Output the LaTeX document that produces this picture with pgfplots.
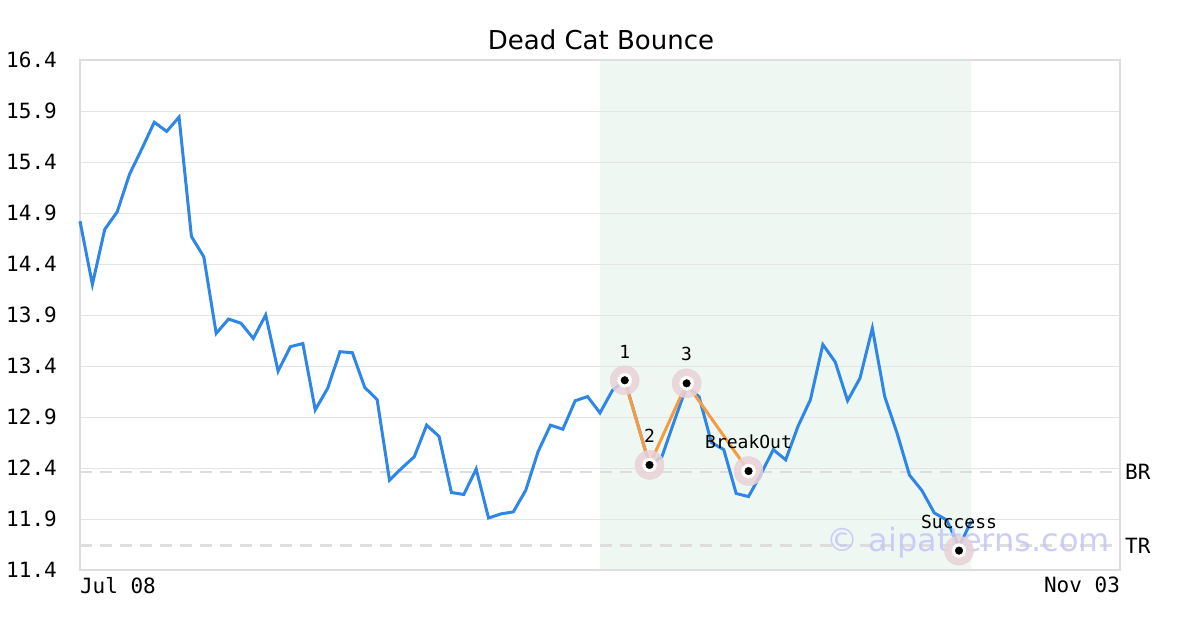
\documentclass[border=0pt]{standalone}
\usepackage{pgfplots}
\pgfplotsset{compat=1.18}
\usepackage{pgfplotstable}
\usepackage{fontspec}
\setmainfont{DejaVu Sans}
\setmonofont{DejaVu Sans Mono}
\definecolor{lineblue}{RGB}{46,134,230}
\definecolor{pattorange}{RGB}{245,155,66}
\definecolor{shade}{RGB}{239,247,243}
\definecolor{gridgray}{RGB}{228,228,228}
\definecolor{framegray}{RGB}{221,221,221}
\definecolor{halo}{RGB}{232,210,217}
\definecolor{wmark}{RGB}{196,198,246}

\pgfplotstableread{
x y
0 14.82
1 14.20
2 14.74
3 14.91
4 15.28
5 15.53
6 15.79
7 15.70
8 15.84
9 14.67
10 14.47
11 13.72
12 13.86
13 13.82
14 13.67
15 13.90
16 13.35
17 13.59
18 13.62
19 12.97
20 13.18
21 13.54
22 13.53
23 13.19
24 13.07
25 12.28
26 12.40
27 12.51
28 12.82
29 12.71
30 12.16
31 12.14
32 12.39
33 11.91
34 11.95
35 11.97
36 12.18
37 12.56
38 12.82
39 12.78
40 13.06
41 13.10
42 12.94
43 13.16
44 13.26
45 12.85
46 12.43
47 12.51
48 12.86
49 13.20
50 13.10
51 12.65
52 12.58
53 12.15
54 12.12
55 12.34
56 12.58
57 12.48
58 12.81
59 13.07
60 13.61
61 13.44
62 13.06
63 13.28
64 13.77
65 13.10
66 12.74
67 12.33
68 12.18
69 11.96
70 11.89
71 11.63
72 11.88
}\pricedata

\pgfplotstableread{
x y
44 13.26
46 12.43
49 13.23
54 12.37
}\pattdata

\pgfplotstableread{
x y label
44 13.26 1
46 12.43 2
49 13.23 3
54 12.37 BreakOut
71 11.59 Success
}\ptsdata

\begin{document}
\begin{tikzpicture}
\node[anchor=base, font=\fontsize{26bp}{30bp}\selectfont] at (601bp,580bp) {Dead Cat Bounce};
\begin{axis}[
  set layers,
  at={(80bp,60bp)}, anchor=south west,
  scale only axis, width=1040bp, height=510bp,
  xmin=0, xmax=84, ymin=11.4, ymax=16.4,
  clip=false,
  axis line style={framegray, line width=2bp},
  xtick={0,84},
  xticklabels={\rlap{Jul 08},\llap{Nov 03}},
  ytick={11.4,11.9,12.4,12.9,13.4,13.9,14.4,14.9,15.4,15.9,16.4},
  yticklabels={11.4,11.9,12.4,12.9,13.4,13.9,14.4,14.9,15.4,15.9,16.4},
  ymajorgrids,
  grid style={gridgray, line width=0.8bp},
  major tick length=0pt,
  tick label style={font=\ttfamily\fontsize{21bp}{24bp}\selectfont, text=black},
  yticklabel style={anchor=east, inner sep=0pt, xshift=-23bp},
  xticklabel style={anchor=north, inner sep=0pt, yshift=-7bp},
]
\addplot[draw=none, fill=shade, on layer=axis background] coordinates {(42,11.4) (42,16.4) (72,16.4) (72,11.4) (42,11.4)};
\addplot[framegray, line width=2.5bp, dash pattern=on 12bp off 8bp] coordinates {(0,12.36) (84,12.36)};
\addplot[framegray, line width=2.5bp, dash pattern=on 12bp off 8bp] coordinates {(0,11.64) (84,11.64)};
\addplot[lineblue, line width=3bp] table[x=x, y=y] {\pricedata};
\addplot[pattorange, line width=3bp] table[x=x, y=y] {\pattdata};
\addplot[halo, only marks, mark=*, mark size=14.5bp, mark options={draw=none, fill=halo, fill opacity=0.85}] table[x=x, y=y] {\ptsdata};
\addplot[white, only marks, mark=*, mark size=7bp, mark options={draw=none, fill=white}] table[x=x, y=y] {\ptsdata};
\addplot[black, only marks, mark=*, mark size=3.8bp, mark options={draw=none, fill=black},
  nodes near coords, point meta=explicit symbolic,
  nodes near coords style={anchor=south, inner sep=0pt, yshift=22bp, font=\ttfamily\fontsize{18bp}{20bp}\selectfont, text=black}]
  table[x=x, y=y, meta=label] {\ptsdata};
\node[anchor=west, inner sep=0pt, font=\ttfamily\fontsize{21bp}{24bp}\selectfont] at (axis cs:84,12.36) [xshift=5bp] {BR};
\node[anchor=west, inner sep=0pt, font=\ttfamily\fontsize{21bp}{24bp}\selectfont] at (axis cs:84,11.64) [xshift=5bp] {TR};
\node[font=\fontsize{32bp}{36bp}\selectfont, text=wmark, text opacity=0.85] at (axis description cs:0.854,0.053) {© aipatterns.com};
\end{axis}
\pgfresetboundingbox
\path[use as bounding box] (0,0) rectangle (1200bp,630bp);
\end{tikzpicture}
\end{document}
